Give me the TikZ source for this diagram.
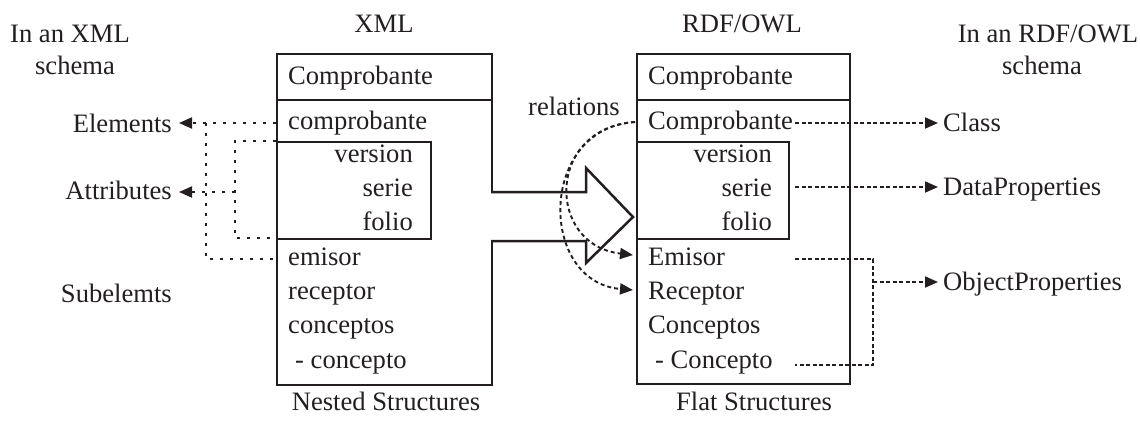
\documentclass[tikz,border=0pt]{standalone}
\usepackage{fontspec}
\setmainfont{Liberation Serif}
\usetikzlibrary{arrows.meta}
\definecolor{ink}{HTML}{231F20}
\tikzset{
  txt/.style={inner sep=0pt, text=ink, font=\fontsize{26.6}{30}\selectfont},
  frame/.style={draw=ink, line width=2.3pt, inner sep=0pt, anchor=north west},
  leftdash/.style={draw=ink, line width=1.9pt, dash pattern=on 3pt off 7pt},
  rightdash/.style={draw=ink, line width=1.8pt, dash pattern=on 4pt off 2.5pt},
  reldash/.style={draw=ink, line width=1.9pt, dash pattern=on 4pt off 3pt},
  tip/.style={-{Triangle[length=13pt,width=11pt]}},
  bigarrow/.style={draw=ink, line width=2.5pt, fill=white, line join=miter},
}
\begin{document}
\begin{tikzpicture}[x=1pt,y=-1pt]
\useasboundingbox (0,0) rectangle (1140,421);

% ---------- column titles ----------
\node[txt, anchor=base] (tXml) at (384,32) {XML};
\node[txt, anchor=base] (tRdf) at (742,32) {RDF/OWL};
\node[txt, anchor=base] (tL1) at (70,42) {In an XML};
\node[txt, anchor=base] (tL2) at (75,74) {schema};
\node[txt, anchor=base] (tR1) at (1048,42) {In an RDF/OWL};
\node[txt, anchor=base] (tR2) at (1042,74) {schema};
\node[txt, anchor=base] (nested) at (386,410) {Nested Structures};
\node[txt, anchor=base] (flat) at (754,410) {Flat Structures};

% ---------- XML box ----------
\node[frame, minimum width=215pt, minimum height=331pt] (xb) at (276,53) {};
\node[frame, minimum width=215pt, minimum height=46pt] (xh) at (276,53) {};
\node[frame, minimum width=154pt, minimum height=97pt] (xi) at (276,141) {};
\node[txt, anchor=base west] (xHead) at (288,84) {Comprobante};
\node[txt, anchor=base west] (xComp) at (288,129) {comprobante};
\node[txt, anchor=base east] (xVer) at (413,162) {version};
\node[txt, anchor=base east] (xSer) at (413,196) {serie};
\node[txt, anchor=base east] (xFol) at (413,230) {folio};
\node[txt, anchor=base west] (xEmi) at (288,265) {emisor};
\node[txt, anchor=base west] (xRec) at (288,299) {receptor};
\node[txt, anchor=base west] (xCon) at (288,333) {conceptos};
\node[txt, anchor=base west] (xCo1) at (295,368) {- concepto};

% ---------- RDF/OWL box ----------
\node[frame, minimum width=213pt, minimum height=330pt] (rb) at (636,53) {};
\node[frame, minimum width=213pt, minimum height=46pt] (rh) at (636,53) {};
\node[frame, minimum width=152pt, minimum height=97pt] (ri) at (636,141) {};
\node[txt, anchor=base west] (rHead) at (648,84) {Comprobante};
\node[txt, anchor=base west] (rComp) at (648,129) {Comprobante};
\node[txt, anchor=base east] (rVer) at (772,162) {version};
\node[txt, anchor=base east] (rSer) at (772,196) {serie};
\node[txt, anchor=base east] (rFol) at (772,230) {folio};
\node[txt, anchor=base west] (rEmi) at (648,265) {Emisor};
\node[txt, anchor=base west] (rRec) at (648,299) {Receptor};
\node[txt, anchor=base west] (rCon) at (648,333) {Conceptos};
\node[txt, anchor=base west] (rCo1) at (655,368) {- Concepto};

% ---------- side labels ----------
\node[txt, anchor=base east] (lEl) at (172,132) {Elements};
\node[txt, anchor=base east] (lAt) at (172,199) {Attributes};
\node[txt, anchor=base east] (lSub) at (172,302) {Subelemts};
\node[txt, anchor=base west] (rel) at (528,115) {relations};
\node[txt, anchor=base west] (lCls) at (943,131) {Class};
\node[txt, anchor=base west] (lDat) at (943,195) {DataProperties};
\node[txt, anchor=base west] (lObj) at (943,290) {ObjectProperties};

% ---------- connector end points ----------
\coordinate (elTip) at (179,123);
\coordinate (elSrc) at (276,123);
\coordinate (atTip) at (179,192);
\coordinate (atSrc) at (235,192);
\coordinate (inTop) at (276,141);
\coordinate (inBot) at (276,238);
\coordinate (subTop) at (206,123);
\coordinate (subEnd) at (276,259);
\coordinate (clsSrc) at (795,123);
\coordinate (clsTip) at (938,123);
\coordinate (datSrc) at (795,187);
\coordinate (datTip) at (938,187);
\coordinate (objA) at (795,259);
\coordinate (objB) at (795,365);
\coordinate (objMid) at (873,282);
\coordinate (objTip) at (938,282);
\coordinate (relSrc) at (635,122);
\coordinate (relEmi) at (633,255);
\coordinate (relRec) at (633,290);

% ---------- XML schema side ----------
\draw[leftdash, tip] (elSrc) -- (elTip);
\draw[leftdash] (inTop) -- (inTop -| atSrc) -- (inBot -| atSrc) -- (inBot);
\draw[leftdash, tip] (atSrc) -- (atTip);
\draw[leftdash] (subTop) -- (subTop |- subEnd) -- (subEnd);

% ---------- transformation arrow ----------
\draw[bigarrow] (491,192) -- (586,192) -- (586,168) -- (633,217)
  -- (586,263) -- (586,241) -- (491,241);

% ---------- relations ----------
\draw[reldash, tip] (relSrc) .. controls (546,128) and (546,245) .. (relEmi);
\draw[reldash, tip] (relSrc) .. controls (538,128) and (538,282) .. (relRec);

% ---------- RDF/OWL schema side ----------
\draw[rightdash, tip] (clsSrc) -- (clsTip);
\draw[rightdash, tip] (datSrc) -- (datTip);
\draw[rightdash] (objA) -- (objA -| objMid) -- (objB -| objMid) -- (objB);
\draw[rightdash, tip] (objMid) -- (objTip);
\end{tikzpicture}
\end{document}
